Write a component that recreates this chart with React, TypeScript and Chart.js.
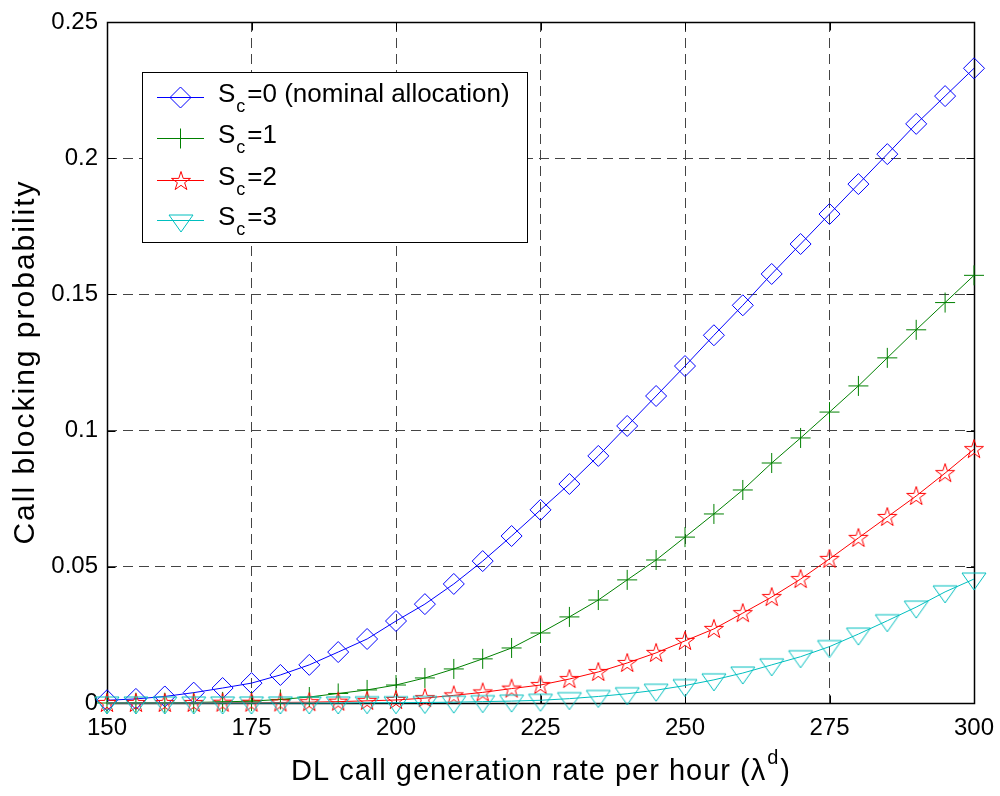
import React, { useEffect, useRef } from "react";
import { Chart, registerables } from "chart.js";

Chart.register(...registerables);

const rates = [150, 155, 160, 165, 170, 175, 180, 185, 190, 195, 200, 205, 210, 215, 220, 225, 230, 235, 240, 245, 250, 255, 260, 265, 270, 275, 280, 285, 290, 295, 300];
const sc0 = [0.0010, 0.0015, 0.0024, 0.0038, 0.0055, 0.0073, 0.0103, 0.0140, 0.0187, 0.0235, 0.0301, 0.0363, 0.0437, 0.0521, 0.0613, 0.0709, 0.0804, 0.0907, 0.1017, 0.1127, 0.1237, 0.1350, 0.1460, 0.1575, 0.1685, 0.1795, 0.1905, 0.2015, 0.2126, 0.2228, 0.2330];
const sc1 = [0, 0.0001, 0.0001, 0.0002, 0.0004, 0.0007, 0.0013, 0.0022, 0.0035, 0.0048, 0.0066, 0.0092, 0.0125, 0.0162, 0.0202, 0.0257, 0.0316, 0.0378, 0.0452, 0.0525, 0.0609, 0.0694, 0.0782, 0.0881, 0.0973, 0.1068, 0.1164, 0.1267, 0.1370, 0.1470, 0.1570];
const sc2 = [0, 0, 0, 0, 0.0001, 0.0001, 0.0002, 0.0003, 0.0005, 0.0008, 0.0011, 0.0018, 0.0028, 0.0039, 0.0053, 0.0066, 0.0088, 0.0114, 0.0147, 0.0184, 0.0228, 0.0272, 0.0330, 0.0389, 0.0455, 0.0529, 0.0606, 0.0683, 0.0760, 0.0844, 0.0932];
const sc3 = [0, 0, 0, 0, 0, 0, 0, 0, 0, 0.0001, 0.0001, 0.0002, 0.0003, 0.0005, 0.0007, 0.0010, 0.0016, 0.0024, 0.0034, 0.0047, 0.0064, 0.0085, 0.0110, 0.0140, 0.0170, 0.0207, 0.0253, 0.0302, 0.0352, 0.0408, 0.0455];

const xTickValues = [150, 175, 200, 225, 250, 275, 300];
const xTickLabels = ["150", "175", "200", "225", "250", "275", "300"];
const yTickValues = [0, 0.05, 0.1, 0.15, 0.2, 0.25];
const yTickLabels = ["0", "0.05", "0.1", "0.15", "0.2", "0.25"];

const legendBase = "S";
const legendSub = "c";
const legendRest = ["=0 (nominal allocation)", "=1", "=2", "=3"];
const seriesColors = ["#0000ff", "#008000", "#ff0000", "#00bfbf"];

const yTitle = "Call blocking probability";
const xTitleMain = "DL call generation rate per hour (\u03bb";
const xTitleSup = "d";
const xTitleEnd = ")";

const FONT = "'Liberation Sans', Arial, Helvetica, sans-serif";

function makeStar(color: string) {
  const c = document.createElement("canvas");
  c.width = 24;
  c.height = 24;
  const g = c.getContext("2d")!;
  const R = 10;
  const r = R * 0.382;
  g.strokeStyle = color;
  g.lineWidth = 1;
  g.beginPath();
  for (let i = 0; i < 10; i++) {
    const a = -Math.PI / 2 + (i * Math.PI) / 5;
    const rr = i % 2 === 0 ? R : r;
    const px = 12 + rr * Math.cos(a);
    const py = 12.5 + rr * Math.sin(a);
    if (i === 0) g.moveTo(px, py);
    else g.lineTo(px, py);
  }
  g.closePath();
  g.stroke();
  return c;
}

function makeTriangle(color: string) {
  const c = document.createElement("canvas");
  c.width = 28;
  c.height = 26;
  const g = c.getContext("2d")!;
  g.strokeStyle = color;
  g.lineWidth = 1;
  g.beginPath();
  g.moveTo(2, 7);
  g.lineTo(26, 7);
  g.lineTo(14, 24);
  g.closePath();
  g.stroke();
  return c;
}

export default function App() {
  const ref = useRef<HTMLCanvasElement | null>(null);

  useEffect(() => {
    const canvas = ref.current;
    if (!canvas) return;
    const star = makeStar(seriesColors[2]);
    const tri = makeTriangle(seriesColors[3]);
    const seriesValues = [sc0, sc1, sc2, sc3];
    const styles: any[] = ["rectRot", "cross", star, tri];
    const radii = [10.5, 10, 10, 10];

    const datasets = seriesValues.map((vals, i) => ({
      label: legendBase + legendSub + legendRest[i],
      data: rates.map((x, j) => ({ x, y: vals[j] })),
      borderColor: seriesColors[i],
      backgroundColor: "rgba(0,0,0,0)",
      borderWidth: 1,
      pointStyle: styles[i],
      pointRadius: radii[i],
      pointBorderColor: seriesColors[i],
      pointBackgroundColor: "rgba(0,0,0,0)",
      pointBorderWidth: 1,
      tension: 0,
      clip: false as any,
      order: 4 - i,
    }));

    const decor = {
      id: "decor",
      beforeDatasetsDraw(chart: any) {
        const ctx = chart.ctx;
        const a = chart.chartArea;
        const xs = chart.scales.x;
        const ys = chart.scales.y;
        ctx.save();
        ctx.strokeStyle = "#000";
        ctx.lineWidth = 1;
        const L = Math.round(a.left) + 0.5;
        const R = Math.round(a.right) + 0.5;
        const T = Math.round(a.top) + 0.5;
        const B = Math.round(a.bottom) + 0.5;
        const tl = 8;
        ctx.beginPath();
        xTickValues.forEach((v) => {
          const px = Math.round(xs.getPixelForValue(v)) + 0.5;
          ctx.moveTo(px, B);
          ctx.lineTo(px, B - tl);
          ctx.moveTo(px, T);
          ctx.lineTo(px, T + tl);
        });
        yTickValues.forEach((v) => {
          const py = Math.round(ys.getPixelForValue(v)) + 0.5;
          ctx.moveTo(L, py);
          ctx.lineTo(L + tl, py);
          ctx.moveTo(R, py);
          ctx.lineTo(R - tl, py);
        });
        ctx.stroke();
        ctx.lineWidth = 1.5;
        ctx.strokeRect(L, T, R - L, B - T);
        ctx.restore();
      },
      afterDraw(chart: any) {
        const ctx = chart.ctx;
        ctx.save();
        // Legend
        const bx = 142.5, by = 72.5, bw = 385, bh = 170;
        ctx.fillStyle = "#fff";
        ctx.fillRect(bx, by, bw, bh);
        ctx.strokeStyle = "#000";
        ctx.lineWidth = 1;
        ctx.strokeRect(bx, by, bw, bh);
        const rowY = [97, 138, 180, 220];
        rowY.forEach((yy, i) => {
          const col = seriesColors[i];
          ctx.strokeStyle = col;
          ctx.lineWidth = 1;
          ctx.beginPath();
          ctx.moveTo(157, yy + 0.5);
          ctx.lineTo(204, yy + 0.5);
          ctx.stroke();
          const mx = 180.5, my = yy + 0.5;
          ctx.beginPath();
          if (i === 0) {
            ctx.moveTo(mx - 10.5, my);
            ctx.lineTo(mx, my - 10.5);
            ctx.lineTo(mx + 10.5, my);
            ctx.lineTo(mx, my + 10.5);
            ctx.closePath();
            ctx.stroke();
          } else if (i === 1) {
            ctx.moveTo(mx - 10, my);
            ctx.lineTo(mx + 10, my);
            ctx.moveTo(mx, my - 10);
            ctx.lineTo(mx, my + 10);
            ctx.stroke();
          } else if (i === 2) {
            ctx.drawImage(star, Math.round(mx - 12), Math.round(my - 12));
          } else {
            ctx.drawImage(tri, Math.round(mx - 14), Math.round(my - 13));
          }
          ctx.fillStyle = "#000";
          ctx.textBaseline = "alphabetic";
          ctx.textAlign = "left";
          ctx.font = `26px ${FONT}`;
          let tx = 218;
          ctx.fillText(legendBase, tx, yy + 5);
          tx += ctx.measureText(legendBase).width;
          ctx.font = `18px ${FONT}`;
          ctx.fillText(legendSub, tx + 1, yy + 15);
          tx += ctx.measureText(legendSub).width + 3;
          ctx.font = `26px ${FONT}`;
          ctx.fillText(legendRest[i], tx, yy + 5);
        });

        // X title
        ctx.fillStyle = "#000";
        (ctx as any).letterSpacing = "1px";
        ctx.font = `29px ${FONT}`;
        const w1 = ctx.measureText(xTitleMain).width;
        const w3 = ctx.measureText(xTitleEnd).width;
        ctx.font = `20px ${FONT}`;
        const w2 = ctx.measureText(xTitleSup).width;
        const total = w1 + w2 + w3 + 2;
        let sx = 541 - total / 2;
        ctx.font = `29px ${FONT}`;
        ctx.fillText(xTitleMain, sx, 780);
        sx += w1 + 1;
        ctx.font = `20px ${FONT}`;
        ctx.fillText(xTitleSup, sx, 764);
        sx += w2 + 1;
        ctx.font = `29px ${FONT}`;
        ctx.fillText(xTitleEnd, sx, 780);

        // Y title
        (ctx as any).letterSpacing = "2px";
        ctx.translate(34, 362);
        ctx.rotate(-Math.PI / 2);
        ctx.textAlign = "center";
        ctx.font = `30px ${FONT}`;
        ctx.fillText(yTitle, 0, 0);
        (ctx as any).letterSpacing = "0px";
        ctx.restore();
      },
    };

    const chart = new Chart(canvas, {
      type: "line",
      data: { datasets },
      options: {
        animation: false,
        responsive: false,
        events: [],
        layout: { padding: { top: 22, right: 26, left: 0, bottom: 0 } },
        plugins: { legend: { display: false }, tooltip: { enabled: false } },
        scales: {
          x: {
            type: "linear",
            min: 150,
            max: 300,
            afterBuildTicks: (s: any) => {
              s.ticks = xTickValues.map((v) => ({ value: v }));
            },
            afterFit: (s: any) => {
              s.height = 93;
              s.paddingLeft = 0;
              s.paddingRight = 0;
            },
            ticks: {
              callback: (_v: any, i: number) => xTickLabels[i],
              font: { family: FONT, size: 24 },
              color: "#000",
              padding: 11,
              maxRotation: 0,
              autoSkip: false,
            },
            grid: { color: "#444", lineWidth: 1, drawTicks: false },
            border: { display: false, dash: [10, 6] },
          },
          y: {
            type: "linear",
            min: 0,
            max: 0.25,
            afterBuildTicks: (s: any) => {
              s.ticks = yTickValues.map((v) => ({ value: v }));
            },
            afterFit: (s: any) => {
              s.width = 107;
              s.paddingTop = 0;
              s.paddingBottom = 0;
            },
            ticks: {
              callback: (_v: any, i: number) => yTickLabels[i],
              font: { family: FONT, size: 24 },
              color: "#000",
              padding: 9,
              autoSkip: false,
            },
            grid: { color: "#444", lineWidth: 1, drawTicks: false },
            border: { display: false, dash: [10, 6] },
          },
        },
      },
      plugins: [decor],
    } as any);

    return () => chart.destroy();
  }, []);

  return (
    <div style={{ position: "absolute", left: 0, top: 0, width: 1000, height: 796, background: "#fff" }}>
      <canvas ref={ref} width={1000} height={796} style={{ display: "block", width: 1000, height: 796 }} />
    </div>
  );
}
